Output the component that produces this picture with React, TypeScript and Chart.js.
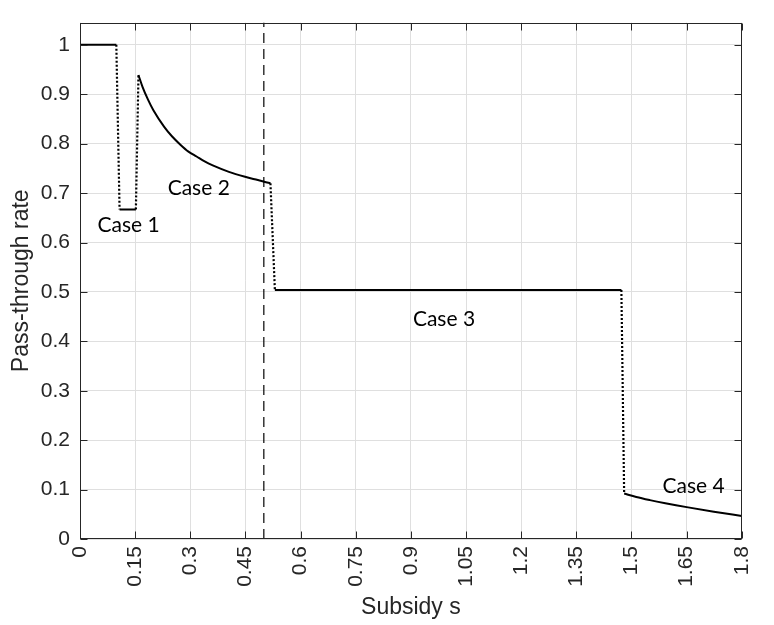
import React, { useEffect, useRef } from "react";
import { Chart, registerables } from "chart.js";

Chart.register(...registerables);

// ---- axis ticks ----
const xTicks = [0, 0.15, 0.3, 0.45, 0.6, 0.75, 0.9, 1.05, 1.2, 1.35, 1.5, 1.65, 1.8];
const xTickLabels = ["0", "0.15", "0.3", "0.45", "0.6", "0.75", "0.9", "1.05", "1.2", "1.35", "1.5", "1.65", "1.8"];
const yTicks = [0, 0.1, 0.2, 0.3, 0.4, 0.5, 0.6, 0.7, 0.8, 0.9, 1];
const yTickLabels = ["0", "0.1", "0.2", "0.3", "0.4", "0.5", "0.6", "0.7", "0.8", "0.9", "1"];
const xMin = 0;
const xMax = 1.8;
const yMin = 0;
const yMax = 1.045;

// ---- series (subsidy s, pass-through rate) ----
const flatS = [0, 0.0988];
const flatRate = [1, 1];
const drop1S = [0.0988, 0.1076];
const drop1Rate = [1, 0.667];
const case1S = [0.1076, 0.152];
const case1Rate = [0.667, 0.667];
const rise1S = [0.152, 0.159];
const rise1Rate = [0.667, 0.939];
const case2S = [0.159, 0.17, 0.185, 0.2, 0.229, 0.25, 0.273, 0.295, 0.317, 0.339, 0.361, 0.405, 0.449, 0.475, 0.501, 0.518];
const case2Rate = [0.939, 0.915, 0.889, 0.867, 0.834, 0.815, 0.798, 0.784, 0.774, 0.764, 0.756, 0.743, 0.733, 0.728, 0.723, 0.72];
const drop2S = [0.518, 0.53];
const drop2Rate = [0.72, 0.504];
const case3S = [0.53, 1.4725];
const case3Rate = [0.504, 0.504];
const drop3S = [1.4725, 1.48];
const drop3Rate = [0.504, 0.092];
const case4S = [1.48, 1.513, 1.55, 1.592, 1.654, 1.724, 1.8];
const case4Rate = [0.092, 0.085, 0.0787, 0.0724, 0.064, 0.0553, 0.0466];
const thresholdS = [0.5, 0.5];
const thresholdRate = [0, 1.045];

// ---- annotations ----
const caseLabels = ["Case 1", "Case 2", "Case 3", "Case 4"];
const caseLabelS = [0.132, 0.323, 0.99, 1.669];
const caseLabelRate = [0.634, 0.709, 0.445, 0.107];

const toPts = (xs: number[], ys: number[]) => xs.map((x, i) => ({ x, y: ys[i] }));

const AXIS = "#262626";
const GRID = "#dfdfdf";
const FONT = "'Liberation Sans', Arial, sans-serif";

function solid(xs: number[], ys: number[], smooth = false) {
  return {
    data: toPts(xs, ys),
    borderColor: "#000",
    borderWidth: 2,
    pointRadius: 0,
    fill: false,
    tension: 0,
    cubicInterpolationMode: smooth ? "monotone" : "default",
  };
}
function dotted(xs: number[], ys: number[]) {
  return {
    data: toPts(xs, ys),
    borderColor: "#000",
    borderWidth: 2.2,
    borderDash: [2, 2],
    pointRadius: 0,
    fill: false,
    tension: 0,
  };
}

const boxPlugin = {
  id: "matlabBox",
  afterDraw(chart: any) {
    const { ctx, chartArea } = chart;
    const { left, right, top, bottom } = chartArea;
    const sx = chart.scales.x;
    const sy = chart.scales.y;
    ctx.save();
    ctx.strokeStyle = AXIS;
    ctx.lineWidth = 1;
    const L = Math.round(left) + 0.5;
    const R = Math.round(right) - 0.5;
    const T = Math.round(top) + 0.5;
    const B = Math.round(bottom) - 0.5;
    ctx.strokeRect(L, T, R - L, B - T);
    const tl = 7;
    ctx.beginPath();
    xTicks.forEach((v) => {
      const px = Math.round(sx.getPixelForValue(v)) + 0.5;
      ctx.moveTo(px, B);
      ctx.lineTo(px, B - tl);
      ctx.moveTo(px, T);
      ctx.lineTo(px, T + tl);
    });
    yTicks.forEach((v) => {
      const py = Math.round(sy.getPixelForValue(v)) + 0.5;
      ctx.moveTo(L, py);
      ctx.lineTo(L + tl, py);
      ctx.moveTo(R, py);
      ctx.lineTo(R - tl, py);
    });
    ctx.stroke();

    ctx.fillStyle = "#000";
    ctx.font = "21px Lato, 'Open Sans', sans-serif";
    ctx.textAlign = "center";
    ctx.textBaseline = "middle";
    caseLabels.forEach((t, i) => {
      ctx.fillText(t, sx.getPixelForValue(caseLabelS[i]), sy.getPixelForValue(caseLabelRate[i]));
    });
    ctx.restore();
  },
};

export default function App() {
  const ref = useRef<HTMLCanvasElement | null>(null);
  useEffect(() => {
    if (!ref.current) return;
    const chart = new Chart(ref.current, {
      type: "line",
      data: {
        datasets: [
          solid(flatS, flatRate),
          dotted(drop1S, drop1Rate),
          solid(case1S, case1Rate),
          dotted(rise1S, rise1Rate),
          solid(case2S, case2Rate, true),
          dotted(drop2S, drop2Rate),
          solid(case3S, case3Rate),
          dotted(drop3S, drop3Rate),
          solid(case4S, case4Rate, true),
          {
            data: toPts(thresholdS, thresholdRate),
            borderColor: "#000",
            borderWidth: 1.2,
            borderDash: [10, 6],
            pointRadius: 0,
            fill: false,
          },
        ] as any,
      },
      options: {
        animation: false,
        responsive: false,
        devicePixelRatio: 1,
        layout: { padding: { top: 10, right: 12, bottom: 0, left: 0 } },
        plugins: { legend: { display: false }, tooltip: { enabled: false } },
        scales: {
          x: {
            type: "linear",
            min: xMin,
            max: xMax,
            afterBuildTicks: (scale: any) => {
              scale.ticks = xTicks.map((v) => ({ value: v }));
            },
            afterFit: (scale: any) => {
              scale.height = 86;
            },
            grid: { color: GRID, lineWidth: 1, drawTicks: false },
            border: { display: false },
            ticks: {
              autoSkip: false,
              minRotation: 90,
              maxRotation: 90,
              padding: 7,
              color: AXIS,
              font: { family: FONT, size: 21 },
              callback: (_v: any, i: number) => xTickLabels[i],
            },
            title: {
              display: true,
              text: "Subsidy s",
              color: AXIS,
              font: { family: FONT, size: 23 },
              padding: { top: 0, bottom: 4 },
            },
          },
          y: {
            type: "linear",
            min: yMin,
            max: yMax,
            afterBuildTicks: (scale: any) => {
              scale.ticks = yTicks.map((v) => ({ value: v }));
            },
            afterFit: (scale: any) => {
              scale.width = 80;
            },
            grid: { color: GRID, lineWidth: 1, drawTicks: false },
            border: { display: false },
            ticks: {
              padding: 10,
              color: AXIS,
              font: { family: FONT, size: 21 },
              callback: (_v: any, i: number) => yTickLabels[i],
            },
            title: {
              display: true,
              text: "Pass-through rate",
              color: AXIS,
              font: { family: FONT, size: 23 },
              padding: { top: 8, bottom: 0 },
            },
          },
        },
      } as any,
      plugins: [boxPlugin],
    });
    return () => chart.destroy();
  }, []);
  return (
    <div style={{ position: "absolute", left: 0, top: 0, width: 774, height: 625, background: "#fff" }}>
      <canvas ref={ref} width={774} height={625} />
    </div>
  );
}
